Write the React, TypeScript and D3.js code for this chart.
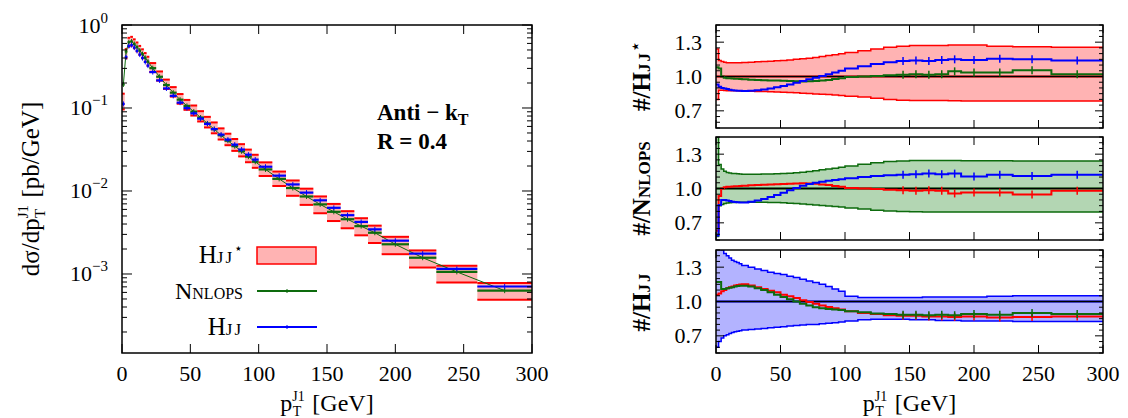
import React from 'react';
import * as d3 from 'd3';

// ---------- DATA ----------
const binEdges = [0,2,4,6,8,10,12,14,16,18,20,25,30,35,40,45,50,55,60,65,70,75,80,85,90,95,100,110,120,130,140,150,160,170,180,190,210,230,260,300];
const xTickValues = [0,50,100,150,200,250,300];
const logMajorPowers = [0,-1,-2,-3];
const ratioTickValues = [0.7,1.0,1.3];

// main plot (pb/GeV)
const hjjStarXs = [0.12,0.45,0.62,0.64,0.60,0.55,0.50,0.455,0.41,0.37,0.31,0.245,0.195,0.158,0.130,0.110,0.094,0.080,0.068,0.058,0.049,0.042,0.036,0.031,0.0265,0.0228,0.0183,0.0140,0.0108,0.0085,0.0068,0.0055,0.0045,0.0037,0.0030,0.0022,0.00152,0.00100,0.00062];
const nnlopsXs = [0.192,0.48,0.62,0.634,0.591,0.542,0.492,0.446,0.402,0.362,0.302,0.238,0.189,0.153,0.126,0.106,0.0904,0.0768,0.0651,0.0555,0.0469,0.0403,0.0347,0.0301,0.0259,0.0225,0.0182,0.0140,0.01085,0.00859,0.0069,0.00561,0.00457,0.00377,0.00314,0.00228,0.00157,0.00106,0.00063];
const hjjXs = [0.112,0.41,0.558,0.573,0.534,0.487,0.44,0.40,0.359,0.324,0.271,0.215,0.172,0.140,0.116,0.0996,0.0862,0.0744,0.0643,0.0557,0.0478,0.0416,0.0362,0.0316,0.0274,0.0239,0.0196,0.0153,0.012,0.00956,0.00772,0.00627,0.00511,0.00424,0.00345,0.00252,0.00176,0.00115,0.000707];

// panel 1: ratio to Hjj*
const p1BandHi = [1.24,1.14,1.13,1.125,1.12,1.12,1.12,1.12,1.12,1.12,1.122,1.125,1.128,1.13,1.133,1.137,1.14,1.145,1.15,1.155,1.16,1.167,1.175,1.183,1.19,1.198,1.21,1.225,1.24,1.255,1.265,1.27,1.27,1.27,1.275,1.275,1.265,1.26,1.255];
const p1BandLo = [0.80,0.88,0.88,0.878,0.876,0.875,0.875,0.875,0.875,0.874,0.873,0.872,0.87,0.868,0.866,0.864,0.862,0.86,0.857,0.854,0.851,0.848,0.845,0.842,0.838,0.834,0.828,0.82,0.81,0.80,0.793,0.79,0.79,0.79,0.788,0.787,0.787,0.787,0.787];
const p1Green = [1.08,1.07,1.0,0.99,0.985,0.985,0.983,0.98,0.98,0.978,0.975,0.972,0.97,0.968,0.966,0.964,0.962,0.96,0.958,0.957,0.958,0.96,0.965,0.97,0.978,0.985,0.995,1.0,1.005,1.01,1.015,1.02,1.015,1.02,1.045,1.035,1.035,1.055,1.02];
const p1Blue = [0.93,0.91,0.90,0.895,0.89,0.885,0.88,0.878,0.876,0.875,0.874,0.876,0.88,0.887,0.895,0.905,0.917,0.93,0.945,0.96,0.975,0.99,1.005,1.02,1.035,1.05,1.07,1.09,1.11,1.125,1.135,1.14,1.135,1.145,1.15,1.145,1.155,1.15,1.14];
const p1Red = [1,1,1,1,1,1,1,1,1,1,1,1,1,1,1,1,1,1,1,1,1,1,1,1,1,1,1,1,1,1,1,1,1,1,1,1,1,1,1];

// panel 2: ratio to Nnlops
const p2BandHi = [1.45,1.21,1.17,1.15,1.14,1.135,1.13,1.13,1.128,1.126,1.125,1.125,1.125,1.126,1.127,1.128,1.13,1.133,1.137,1.142,1.148,1.155,1.163,1.17,1.178,1.185,1.197,1.212,1.225,1.235,1.24,1.245,1.245,1.245,1.245,1.243,1.243,1.24,1.24];
const p2BandLo = [0.58,0.85,0.86,0.87,0.873,0.875,0.877,0.878,0.879,0.88,0.88,0.88,0.88,0.879,0.878,0.877,0.875,0.872,0.868,0.864,0.86,0.856,0.852,0.848,0.843,0.838,0.83,0.82,0.81,0.803,0.80,0.797,0.795,0.795,0.795,0.795,0.795,0.795,0.795];
const p2Red = [0.63,0.935,1.0,1.01,1.015,1.015,1.017,1.02,1.02,1.022,1.025,1.029,1.031,1.033,1.035,1.037,1.04,1.042,1.044,1.045,1.044,1.042,1.036,1.031,1.022,1.015,1.005,1.0,0.995,0.99,0.985,0.98,0.985,0.98,0.957,0.966,0.966,0.948,0.98];
const p2Blue = [0.59,0.855,0.90,0.90,0.895,0.89,0.885,0.882,0.88,0.878,0.878,0.885,0.895,0.908,0.925,0.943,0.963,0.985,1.005,1.025,1.04,1.05,1.06,1.068,1.075,1.08,1.09,1.10,1.11,1.115,1.12,1.125,1.13,1.125,1.13,1.105,1.12,1.11,1.12];
const p2Green = [1,1,1,1,1,1,1,1,1,1,1,1,1,1,1,1,1,1,1,1,1,1,1,1,1,1,1,1,1,1,1,1,1,1,1,1,1,1,1];

// panel 3: ratio to Hjj
const p3BandHi = [1.6,1.5,1.45,1.42,1.40,1.38,1.36,1.35,1.34,1.33,1.315,1.30,1.285,1.27,1.255,1.245,1.235,1.22,1.21,1.195,1.18,1.165,1.15,1.13,1.11,1.09,1.045,1.035,1.035,1.035,1.035,1.035,1.04,1.04,1.04,1.04,1.045,1.05,1.05];
const p3BandLo = [0.60,0.65,0.68,0.70,0.71,0.72,0.73,0.735,0.74,0.745,0.75,0.755,0.76,0.765,0.77,0.775,0.78,0.785,0.79,0.795,0.80,0.80,0.805,0.81,0.815,0.82,0.83,0.84,0.845,0.845,0.845,0.84,0.84,0.835,0.835,0.83,0.83,0.825,0.825];
const p3Red = [1.06,1.07,1.09,1.10,1.115,1.125,1.13,1.14,1.145,1.148,1.15,1.14,1.125,1.11,1.095,1.08,1.06,1.045,1.03,1.012,0.995,0.98,0.965,0.952,0.94,0.93,0.915,0.90,0.89,0.88,0.875,0.875,0.87,0.87,0.865,0.87,0.86,0.865,0.87];
const p3Green = [1.17,1.17,1.11,1.11,1.115,1.12,1.125,1.13,1.135,1.137,1.137,1.13,1.115,1.10,1.08,1.06,1.04,1.02,1.0,0.98,0.965,0.95,0.94,0.935,0.93,0.925,0.915,0.905,0.895,0.89,0.885,0.885,0.88,0.885,0.88,0.89,0.885,0.90,0.89];
const p3Blue = [1,1,1,1,1,1,1,1,1,1,1,1,1,1,1,1,1,1,1,1,1,1,1,1,1,1,1,1,1,1,1,1,1,1,1,1,1,1,1];

// ---------- STYLE ----------
const FONT = "'Liberation Serif', 'DejaVu Serif', serif";
const RED = '#ff0000';
const GREEN = '#0d6b0d';
const BLUE = '#0000ff';
const RED_FILL = '#ffb3b3';
const GREEN_FILL = '#b3d6b3';
const BLUE_FILL = '#b3b3ff';

const W = 1128, H = 418;
const L = { x0: 122, x1: 532, y0: 25, y1: 353 };
const R = { x0: 716, x1: 1103 };
const panels = [
  { top: 25, bottom: 128 },
  { top: 137, bottom: 240 },
  { top: 250, bottom: 353 },
];

const nb = binEdges.length - 1;

function stepPath(vals: number[], x: any, y: any) {
  const pts: [number, number][] = vals.map((v, i) => [x(binEdges[i]), y(v)]);
  pts.push([x(binEdges[nb]), y(vals[nb - 1])]);
  return d3.line().curve(d3.curveStepAfter)(pts) || '';
}
function stepArea(lo: number[], hi: number[], x: any, y: any) {
  const pts: [number, number, number][] = lo.map((v, i) => [x(binEdges[i]), y(v), y(hi[i])]);
  pts.push([x(binEdges[nb]), y(lo[nb - 1]), y(hi[nb - 1])]);
  return d3.area<[number, number, number]>().curve(d3.curveStepAfter).x(d => d[0]).y0(d => d[1]).y1(d => d[2])(pts) || '';
}

const BASE = 22;

function HjjLabel({ star, size, sc }: { star?: boolean; size: number; sc: number }) {
  return (
    <>
      <tspan fontSize={size}>H</tspan>
      <tspan fontSize={sc} letterSpacing={2}>JJ</tspan>
      {star ? <tspan fontSize={sc * 0.85} dy={-size * 0.4}>⋆</tspan> : null}
    </>
  );
}

function PtLabel({ x, y }: { x: number; y: number }) {
  return (
    <text x={x} y={y} textAnchor="middle" fontSize={24}>
      p<tspan fontSize={14} dy={-10}>J1</tspan><tspan fontSize={14} dx={-12} dy={15}>T</tspan><tspan dy={-5} dx={5}> [GeV]</tspan>
    </text>
  );
}

export default function App() {
  const xL = d3.scaleLinear().domain([0, 300]).range([L.x0, L.x1]);
  const yL = d3.scaleLog().domain([Math.pow(10, -3.952), 1]).range([L.y1, L.y0]);
  const xR = d3.scaleLinear().domain([0, 300]).range([R.x0, R.x1]);
  const yP = panels.map(p => d3.scaleLinear().domain([0.55, 1.45]).range([p.bottom, p.top]));

  const minorLog: number[] = [];
  for (let p = -4; p <= -1; p++) {
    for (let m = 2; m <= 9; m++) {
      const v = m * Math.pow(10, p);
      if (v >= yL.domain()[0] && v <= 1) minorLog.push(v);
    }
  }
  const minorRatio: number[] = d3.range(0.55, 1.451, 0.05).map(v => Math.round(v * 100) / 100);

  const mainBins = d3.range(nb);

  const ratioPanel = (idx: number, bandLo: number[], bandHi: number[], bandFill: string, bandStroke: string,
    selfVals: number[], selfColor: string, others: { vals: number[]; color: string }[]) => {
    const y = yP[idx];
    const p = panels[idx];
    const clipId = `clipP${idx}`;
    const errBins = mainBins.filter(i => binEdges[i] >= 140);
    return (
      <g key={idx}>
        <defs>
          <clipPath id={clipId}>
            <rect x={R.x0} y={p.top} width={R.x1 - R.x0} height={p.bottom - p.top} />
          </clipPath>
        </defs>
        <g clipPath={`url(#${clipId})`}>
          <path d={stepArea(bandLo, bandHi, xR, y)} fill={bandFill} stroke="none" />
          <path d={stepPath(bandHi, xR, y)} fill="none" stroke={bandStroke} strokeWidth={1.5} />
          <path d={stepPath(bandLo, xR, y)} fill="none" stroke={bandStroke} strokeWidth={1.5} />
          <path d={stepPath(selfVals, xR, y)} fill="none" stroke={selfColor} strokeWidth={2} />
          <line x1={R.x0} x2={R.x1} y1={y(1)} y2={y(1)} stroke="#000" strokeWidth={1.5} />
          {others.map((o, k) => (
            <g key={k}>
              <path d={stepPath(o.vals, xR, y)} fill="none" stroke={o.color} strokeWidth={2} />
              {errBins.map(i => {
                const cx = xR((binEdges[i] + binEdges[i + 1]) / 2);
                return <line key={i} x1={cx} x2={cx} y1={y(o.vals[i]) - 4} y2={y(o.vals[i]) + 4} stroke={o.color} strokeWidth={1.5} />;
              })}
            </g>
          ))}
        </g>
        {minorRatio.map(v => {
          const major = ratioTickValues.some(t => Math.abs(t - v) < 1e-6);
          const len = major ? 8 : 4;
          return (
            <g key={v}>
              <line x1={R.x0} x2={R.x0 + len} y1={y(v)} y2={y(v)} stroke="#000" strokeWidth={1} />
              <line x1={R.x1} x2={R.x1 - len} y1={y(v)} y2={y(v)} stroke="#000" strokeWidth={1} />
            </g>
          );
        })}
        {xTickValues.map(v => (
          <g key={v}>
            <line x1={xR(v)} x2={xR(v)} y1={p.bottom} y2={p.bottom - 8} stroke="#000" strokeWidth={1} />
            <line x1={xR(v)} x2={xR(v)} y1={p.top} y2={p.top + 8} stroke="#000" strokeWidth={1} />
          </g>
        ))}
        {ratioTickValues.map(v => (
          <text key={v} x={702} y={y(v) + 7.5} textAnchor="end" fontSize={BASE}>{v.toFixed(1)}</text>
        ))}
        <rect x={R.x0} y={p.top} width={R.x1 - R.x0} height={p.bottom - p.top} fill="none" stroke="#000" strokeWidth={1.5} />
      </g>
    );
  };

  return (
    <svg width={W} height={H} style={{ position: 'absolute', left: 0, top: 0, background: '#fff' }} fontFamily={FONT}>
      <rect x={0} y={0} width={W} height={H} fill="#fff" />
      <defs>
        <clipPath id="clipMain">
          <rect x={L.x0} y={L.y0} width={L.x1 - L.x0} height={L.y1 - L.y0} />
        </clipPath>
      </defs>

      {/* ---------- main plot ---------- */}
      <g clipPath="url(#clipMain)">
        {mainBins.map(i => {
          const x0 = xL(binEdges[i]), x1 = xL(binEdges[i + 1]);
          const yHi = yL(hjjStarXs[i] * p1BandHi[i]);
          const yLo = yL(hjjStarXs[i] * p1BandLo[i]);
          return (
            <g key={i}>
              <rect x={x0} y={yHi} width={x1 - x0} height={yLo - yHi} fill={RED_FILL} />
              <line x1={x0} x2={x1} y1={yHi} y2={yHi} stroke={RED} strokeWidth={2} />
              <line x1={x0} x2={x1} y1={yLo} y2={yLo} stroke={RED} strokeWidth={2} />
            </g>
          );
        })}
        <path
          d={d3.line()(mainBins.map(i => [xL((binEdges[i] + binEdges[i + 1]) / 2), yL(nnlopsXs[i])] as [number, number])) || ''}
          fill="none" stroke={GREEN} strokeWidth={1}
        />
        {mainBins.map(i => {
          const x0 = xL(binEdges[i]), x1 = xL(binEdges[i + 1]);
          const cx = (x0 + x1) / 2;
          return (
            <g key={i}>
              <line x1={x0} x2={x1} y1={yL(nnlopsXs[i])} y2={yL(nnlopsXs[i])} stroke={GREEN} strokeWidth={2.2} />
              <line x1={cx} x2={cx} y1={yL(nnlopsXs[i]) - 2.5} y2={yL(nnlopsXs[i]) + 2.5} stroke={GREEN} strokeWidth={1} />
              <line x1={x0} x2={x1} y1={yL(hjjXs[i])} y2={yL(hjjXs[i])} stroke={BLUE} strokeWidth={2.2} />
              <line x1={cx} x2={cx} y1={yL(hjjXs[i]) - 2.5} y2={yL(hjjXs[i]) + 2.5} stroke={BLUE} strokeWidth={1} />
            </g>
          );
        })}
      </g>
      {logMajorPowers.map(p => {
        const y = yL(Math.pow(10, p));
        return (
          <g key={p}>
            <line x1={L.x0} x2={L.x0 + 10} y1={y} y2={y} stroke="#000" strokeWidth={1} />
            <line x1={L.x1} x2={L.x1 - 10} y1={y} y2={y} stroke="#000" strokeWidth={1} />
            <text x={108} y={y + 7.5} textAnchor="end" fontSize={BASE}>
              10<tspan fontSize={15} dy={-10}>{p === 0 ? '0' : `−${-p}`}</tspan>
            </text>
          </g>
        );
      })}
      {minorLog.map(v => {
        const y = yL(v);
        return (
          <g key={v}>
            <line x1={L.x0} x2={L.x0 + 5} y1={y} y2={y} stroke="#000" strokeWidth={1} />
            <line x1={L.x1} x2={L.x1 - 5} y1={y} y2={y} stroke="#000" strokeWidth={1} />
          </g>
        );
      })}
      {xTickValues.map(v => (
        <g key={v}>
          <line x1={xL(v)} x2={xL(v)} y1={L.y1} y2={L.y1 - 9} stroke="#000" strokeWidth={1} />
          <line x1={xL(v)} x2={xL(v)} y1={L.y0} y2={L.y0 + 9} stroke="#000" strokeWidth={1} />
          <text x={xL(v)} y={381} textAnchor="middle" fontSize={BASE}>{v}</text>
        </g>
      ))}
      <rect x={L.x0} y={L.y0} width={L.x1 - L.x0} height={L.y1 - L.y0} fill="none" stroke="#000" strokeWidth={1.5} />

      {/* annotation */}
      <text x={377} y={120} fontSize={23} fontWeight="bold">Anti − k<tspan fontSize={16} dy={5}>T</tspan></text>
      <text x={377} y={149} fontSize={23} fontWeight="bold">R = 0.4</text>

      {/* legend */}
      <text x={243} y={263} textAnchor="end"><HjjLabel star size={25} sc={17} /></text>
      <rect x={257} y={247} width={59} height={17} fill={RED_FILL} stroke={RED} strokeWidth={1.5} />
      <text x={243} y={299} textAnchor="end" fontSize={24}>N<tspan fontSize={16}>NLOPS</tspan></text>
      <line x1={257} x2={317} y1={291} y2={291} stroke={GREEN} strokeWidth={2} />
      <line x1={287} x2={287} y1={289} y2={293} stroke={GREEN} strokeWidth={1} />
      <text x={243} y={335} textAnchor="end"><HjjLabel size={25} sc={17} /></text>
      <line x1={257} x2={317} y1={327} y2={327} stroke={BLUE} strokeWidth={2} />
      <line x1={287} x2={287} y1={325} y2={329} stroke={BLUE} strokeWidth={1} />

      {/* main axis labels */}
      <text transform={`translate(39, ${(L.y0 + L.y1) / 2}) rotate(-90)`} textAnchor="middle" fontSize={25}>
        dσ/dp<tspan fontSize={15} dy={-11}>J1</tspan><tspan fontSize={15} dx={-13} dy={17}>T</tspan><tspan dy={-6} dx={5}> [pb/GeV]</tspan>
      </text>
      <PtLabel x={(L.x0 + L.x1) / 2} y={411} />

      {/* ratio panels */}
      {ratioPanel(0, p1BandLo, p1BandHi, RED_FILL, RED, p1Red, RED, [{ vals: p1Green, color: GREEN }, { vals: p1Blue, color: BLUE }])}
      {ratioPanel(1, p2BandLo, p2BandHi, GREEN_FILL, GREEN, p2Green, GREEN, [{ vals: p2Red, color: RED }, { vals: p2Blue, color: BLUE }])}
      {ratioPanel(2, p3BandLo, p3BandHi, BLUE_FILL, BLUE, p3Blue, BLUE, [{ vals: p3Red, color: RED }, { vals: p3Green, color: GREEN }])}
      {xTickValues.map(v => (
        <text key={v} x={xR(v)} y={381} textAnchor="middle" fontSize={BASE}>{v}</text>
      ))}
      <PtLabel x={(R.x0 + R.x1) / 2} y={411} />

      {/* ratio y labels */}
      <text transform={`translate(650, ${(panels[0].top + panels[0].bottom) / 2}) rotate(-90)`} textAnchor="middle" fontSize={25} fontWeight="bold">
        #/<HjjLabel star size={25} sc={17} />
      </text>
      <text transform={`translate(650, ${(panels[1].top + panels[1].bottom) / 2}) rotate(-90)`} textAnchor="middle" fontSize={25} fontWeight="bold">
        #/N<tspan fontSize={17}>NLOPS</tspan>
      </text>
      <text transform={`translate(650, ${(panels[2].top + panels[2].bottom) / 2}) rotate(-90)`} textAnchor="middle" fontSize={25} fontWeight="bold">
        #/<HjjLabel size={25} sc={17} />
      </text>
    </svg>
  );
}
